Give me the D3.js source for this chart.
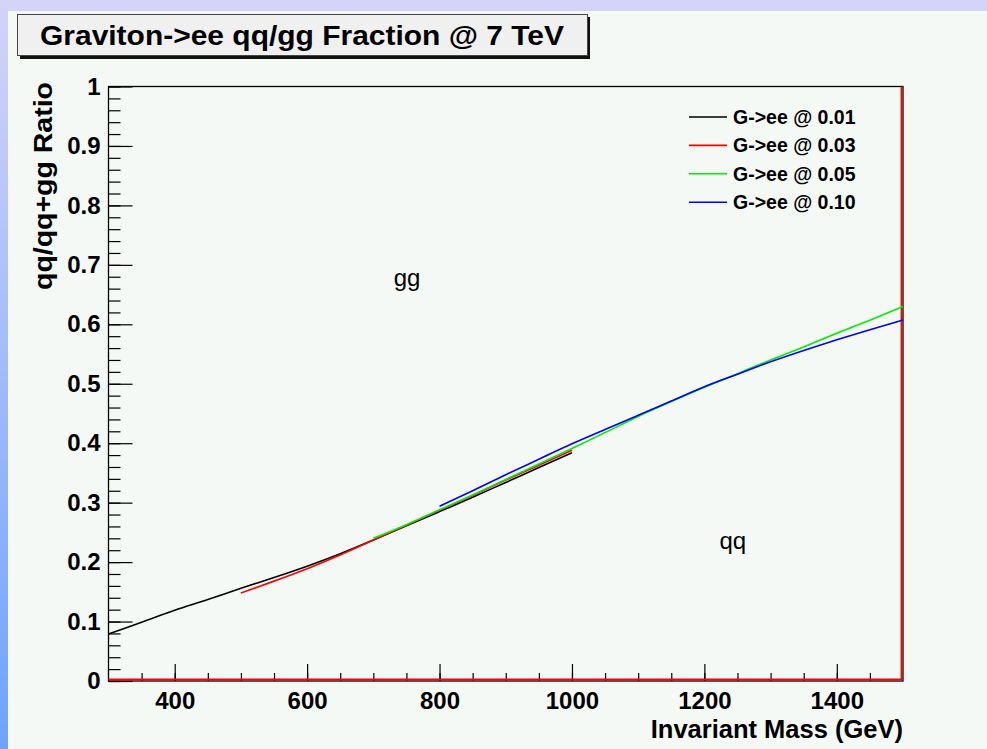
<!DOCTYPE html>
<html>
<head>
<meta charset="utf-8">
<script src="https://cdn.jsdelivr.net/npm/d3@7/dist/d3.min.js"></script>
<style>
  html, body { margin: 0; padding: 0; background: #f5f9f6; }
  svg { display: block; }
  text { font-family: "Liberation Sans", Arial, Helvetica, sans-serif; }
</style>
</head>
<body>
<svg id="chart" width="987" height="749"></svg>
<script>
// Invariant mass samples (GeV) and qq fraction for each coupling
const mass001 = [300, 350, 400, 450, 500, 550, 600, 650, 700, 750, 800, 850, 900, 950, 1000];
const frac001 = [0.079, 0.099, 0.119, 0.137, 0.156, 0.174, 0.193, 0.214, 0.237, 0.261, 0.285, 0.309, 0.334, 0.359, 0.384];

const mass003 = [500, 550, 600, 650, 700, 750, 800, 850, 900, 950, 1000];
const frac003 = [0.148, 0.168, 0.189, 0.212, 0.237, 0.262, 0.287, 0.312, 0.338, 0.363, 0.388];

const mass005 = [700, 750, 800, 850, 900, 950, 1000, 1050, 1100, 1150, 1200, 1250, 1300, 1350, 1400, 1450, 1500];
const frac005 = [0.240, 0.263, 0.288, 0.313, 0.339, 0.365, 0.391, 0.418, 0.445, 0.470, 0.494, 0.517, 0.540, 0.562, 0.585, 0.607, 0.630];

const mass010 = [800, 850, 900, 950, 1000, 1050, 1100, 1150, 1200, 1250, 1300, 1350, 1400, 1450, 1500];
const frac010 = [0.294, 0.320, 0.347, 0.373, 0.399, 0.423, 0.447, 0.471, 0.495, 0.516, 0.537, 0.556, 0.574, 0.591, 0.607];

const seriesLabels = ["G->ee @ 0.01", "G->ee @ 0.03", "G->ee @ 0.05", "G->ee @ 0.10"];
const seriesColors = ["#000000", "#ff0000", "#00ee00", "#0000ff"];

const xMajorTicks = [400, 600, 800, 1000, 1200, 1400];
const yMajorTicks = [0, 0.1, 0.2, 0.3, 0.4, 0.5, 0.6, 0.7, 0.8, 0.9, 1];
const yTickLabels = ["0", "0.1", "0.2", "0.3", "0.4", "0.5", "0.6", "0.7", "0.8", "0.9", "1"];

const chartTitle = "Graviton->ee qq/gg Fraction @ 7 TeV";
const xTitle = "Invariant Mass (GeV)";
const yTitle = "qq/qq+gg Ratio";
const regionLabels = [{ text: "gg", m: 751, f: 0.665 }, { text: "qq", m: 1243, f: 0.222 }];

const series = [
  { mass: mass001, frac: frac001 },
  { mass: mass003, frac: frac003 },
  { mass: mass005, frac: frac005 },
  { mass: mass010, frac: frac010 }
].map((s, i) => ({ ...s, label: seriesLabels[i], color: seriesColors[i] }));

const svg = d3.select("#chart");

// slide-style backdrop: lavender strip on top, blue gradient on the left
const defs = svg.append("defs");
const grad = defs.append("linearGradient").attr("id", "sideGrad")
  .attr("x1", 0).attr("y1", 0).attr("x2", 0).attr("y2", 1);
grad.append("stop").attr("offset", "0%").attr("stop-color", "#d4d3f8");
grad.append("stop").attr("offset", "100%").attr("stop-color", "#6da3ff");

svg.append("rect").attr("x", 0).attr("y", 0).attr("width", 987).attr("height", 749).attr("fill", "#f5f9f6");
svg.append("rect").attr("x", 0).attr("y", 0).attr("width", 987).attr("height", 11).attr("fill", "#d4d3f8");
svg.append("rect").attr("x", 0).attr("y", 0).attr("width", 8).attr("height", 749).attr("fill", "url(#sideGrad)");

const x = d3.scaleLinear().domain([300, 1500]).range([108.5, 903]);
const y = d3.scaleLinear().domain([0, 1]).range([681, 86.5]);

// minor ticks
svg.append("g").attr("transform", `translate(${x.range()[0]},0)`)
  .call(d3.axisLeft(y).tickValues(d3.range(0, 1.0001, 0.02)).tickSize(-12).tickFormat(""))
  .call(g => g.select(".domain").remove())
  .call(g => g.selectAll("line").attr("stroke", "#000").attr("stroke-width", 1.2));
svg.append("g").attr("transform", `translate(0,${y.range()[0]})`)
  .call(d3.axisBottom(x).tickValues(d3.range(350, 1500, 50)).tickSize(-8).tickFormat(""))
  .call(g => g.select(".domain").remove())
  .call(g => g.selectAll("line").attr("stroke", "#000").attr("stroke-width", 1.2));

// major ticks with labels
svg.append("g").attr("transform", `translate(${x.range()[0]},0)`)
  .call(d3.axisLeft(y).tickValues(yMajorTicks).tickSize(-24).tickPadding(8)
    .tickFormat((d, i) => yTickLabels[i]))
  .call(g => g.select(".domain").remove())
  .call(g => g.selectAll("line").attr("stroke", "#000").attr("stroke-width", 1.2))
  .call(g => g.selectAll("text").attr("font-family", "Liberation Sans, Arial, sans-serif")
    .attr("font-size", 24).attr("font-weight", "bold").attr("fill", "#000"));

svg.append("g").attr("transform", `translate(0,${y.range()[0]})`)
  .call(d3.axisBottom(x).tickValues(xMajorTicks).tickSize(-17).tickPadding(11).tickFormat(d3.format("d")))
  .call(g => g.select(".domain").remove())
  .call(g => g.selectAll("line").attr("stroke", "#000").attr("stroke-width", 1.2))
  .call(g => g.selectAll("text").attr("font-family", "Liberation Sans, Arial, sans-serif")
    .attr("font-size", 24).attr("font-weight", "bold").attr("fill", "#000"));

// frame
const [x0, x1] = x.range();
const [yb, yt] = y.range();
svg.append("rect").attr("x", x0).attr("y", yt).attr("width", x1 - x0).attr("height", yb - yt)
  .attr("fill", "none").attr("stroke", "#000").attr("stroke-width", 1.3);
// red outline along the bottom and right edges
svg.append("path")
  .attr("d", `M${x0},${yb - 1.5} L${x1 - 1.5},${yb - 1.5} L${x1 - 1.5},${yt}`)
  .attr("fill", "none").attr("stroke", "#ff0000").attr("stroke-width", 1.8);

// curves
const line = d3.line().x(d => x(d[0])).y(d => y(d[1])).curve(d3.curveMonotoneX);
svg.append("g").selectAll("path").data(series).join("path")
  .attr("d", s => line(s.mass.map((m, i) => [m, s.frac[i]])))
  .attr("fill", "none").attr("stroke", s => s.color).attr("stroke-width", 1.6);

// legend
const legend = svg.append("g").attr("transform", "translate(689,117)");
const item = legend.selectAll("g").data(series).join("g")
  .attr("transform", (d, i) => `translate(0,${i * 28.4})`);
item.append("line").attr("x1", 0).attr("x2", 38).attr("y1", 0).attr("y2", 0)
  .attr("stroke", d => d.color).attr("stroke-width", 1.6);
item.append("text").attr("x", 44).attr("y", 0).attr("dy", "0.36em")
  .attr("font-size", 19.5).attr("font-weight", "bold").attr("fill", "#000")
  .text(d => d.label);

// region labels
svg.append("g").selectAll("text").data(regionLabels).join("text")
  .attr("x", d => x(d.m)).attr("y", d => y(d.f)).attr("text-anchor", "middle")
  .attr("font-size", 24).attr("fill", "#000").text(d => d.text);

// axis titles
svg.append("text").attr("x", x1).attr("y", 738).attr("text-anchor", "end")
  .attr("font-size", 25.5).attr("font-weight", "bold").attr("fill", "#000").text(xTitle);
svg.append("text").attr("transform", "translate(52,82) rotate(-90)").attr("text-anchor", "end")
  .attr("font-size", 25).attr("font-weight", "bold").attr("fill", "#000")
  .attr("textLength", 208).attr("lengthAdjust", "spacingAndGlyphs").text(yTitle);

// title box with drop shadow
svg.append("rect").attr("x", 20).attr("y", 17).attr("width", 570).attr("height", 42).attr("fill", "#111");
svg.append("rect").attr("x", 17.5).attr("y", 14.5).attr("width", 570).attr("height", 41)
  .attr("fill", "#f0f0f0").attr("stroke", "#444").attr("stroke-width", 1);
svg.append("text").attr("x", 40).attr("y", 45).attr("font-size", 28).attr("font-weight", "bold")
  .attr("fill", "#000").attr("textLength", 524).attr("lengthAdjust", "spacingAndGlyphs").text(chartTitle);
</script>
</body>
</html>
